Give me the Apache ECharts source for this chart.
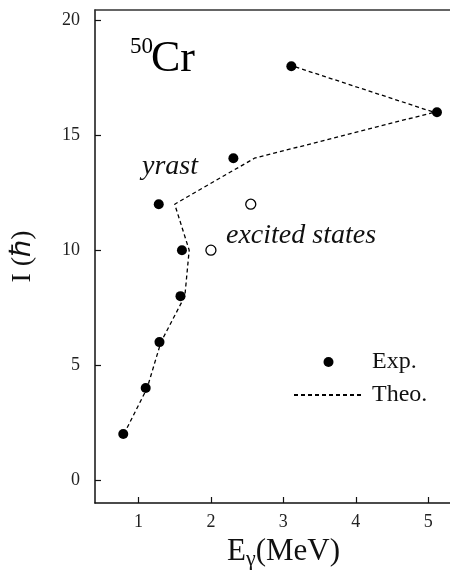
<!DOCTYPE html>
<html>
<head>
<meta charset="utf-8">
<script src="https://cdn.jsdelivr.net/npm/echarts@6/dist/echarts.min.js"></script>
<style>html,body{margin:0;padding:0;background:#fff}#c{width:450px;height:570px}</style>
</head>
<body>
<div id="c"></div>
<script>
// Experimental yrast states: E_gamma (MeV) and spin I (hbar)
const expE = [0.79, 1.10, 1.29, 1.58, 1.60, 1.28, 2.31, 5.12, 3.11];
const expI = [2, 4, 6, 8, 10, 12, 14, 16, 18];
// Experimental excited states (open circles)
const excE = [2.00, 2.55];
const excI = [10, 12];
// Theoretical curve
const theoE = [0.80, 1.12, 1.31, 1.64, 1.70, 1.50, 2.60, 5.08, 3.14];
const theoI = [2, 4, 6, 8, 10, 12, 14, 16, 18];
// Tick labels
const xTicks = [1, 2, 3, 4, 5];
const yTicks = [0, 5, 10, 15, 20];

const FONT = '"Liberation Serif", "Times New Roman", serif';
const pairs = (a, b) => a.map((v, i) => [v, b[i]]);

const chart = echarts.init(document.getElementById('c'), null, {renderer: 'canvas'});
chart.setOption({
  animation: false,
  backgroundColor: '#fff',
  grid: {left: 95, top: 10, right: 0, bottom: 67, containLabel: false, outerBoundsMode: 'none'},
  xAxis: [{
    type: 'value', min: 0.4, max: 5.3, position: 'bottom',
    name: '{e|E}{g|γ}{e|(MeV)}', nameLocation: 'middle', nameGap: 17,
    nameTextStyle: {
      padding: [0, 0, 0, 22],
      rich: {
        e: {fontFamily: FONT, fontSize: 31, color: '#111'},
        g: {fontFamily: FONT, fontSize: 22, color: '#111', padding: [16, 0, 0, 0]}
      }
    },
    axisLine: {show: true, onZero: false, lineStyle: {color: '#111', width: 1.5}},
    axisTick: {show: true, inside: true, length: 6, lineStyle: {color: '#111', width: 1.2}, customValues: xTicks},
    axisLabel: {show: true, margin: 10, fontFamily: FONT, fontSize: 18, color: '#222', customValues: xTicks},
    splitLine: {show: false}
  }, {
    type: 'value', min: 0.4, max: 5.3, position: 'top',
    axisLine: {show: true, onZero: false, lineStyle: {color: '#333', width: 1.5}},
    axisTick: {show: false}, axisLabel: {show: false}, splitLine: {show: false}
  }],
  yAxis: {
    type: 'value', min: -1, max: 20.45,
    name: 'I (ℏ)', nameLocation: 'middle', nameGap: 58, nameRotate: 90,
    nameTextStyle: {fontFamily: FONT, fontSize: 28, color: '#111'},
    axisLine: {show: true, onZero: false, lineStyle: {color: '#111', width: 1.5}},
    axisTick: {show: true, inside: true, length: 6, lineStyle: {color: '#111', width: 1.2}, customValues: yTicks},
    axisLabel: {show: true, margin: 15, fontFamily: FONT, fontSize: 18, color: '#222', customValues: yTicks},
    splitLine: {show: false}
  },
  legend: {
    orient: 'vertical', left: 288, top: 345,
    itemWidth: 69, itemHeight: 10, itemGap: 9,
    data: ['Exp.', {name: 'Theo.', itemStyle: {opacity: 0}}],
    textStyle: {fontFamily: FONT, fontSize: 24, color: '#111', padding: [0, 0, 0, 4]},
    selectedMode: false
  },
  series: [{
    name: 'Theo.', type: 'line', xAxisIndex: 0,
    data: pairs(theoE, theoI),
    symbol: 'none', showSymbol: false, smooth: false,
    lineStyle: {color: '#000', width: 1.3, type: [4, 3]},
    itemStyle: {color: '#000'},
    z: 2
  }, {
    name: 'Exp.', type: 'scatter', xAxisIndex: 0,
    data: pairs(expE, expI),
    symbol: 'circle', symbolSize: 10,
    itemStyle: {color: '#000', opacity: 1},
    z: 5
  }, {
    name: 'excited', type: 'scatter', xAxisIndex: 0,
    data: pairs(excE, excI),
    symbol: 'circle', symbolSize: 10,
    itemStyle: {color: '#fff', borderColor: '#000', borderWidth: 1.3, opacity: 1},
    z: 5
  }],
  graphic: [
    {type: 'text', left: 130, top: 35, style: {text: '50', font: '23px ' + FONT, fill: '#000'}},
    {type: 'text', left: 151, top: 37, style: {text: 'Cr', font: '44px ' + FONT, fill: '#000'}},
    {type: 'text', left: 142, top: 153, style: {text: 'yrast', font: 'italic 28px ' + FONT, fill: '#111'}},
    {type: 'text', left: 226, top: 222, style: {text: 'excited states', font: 'italic 28px ' + FONT, fill: '#111'}}
  ]
});
</script>
</body>
</html>
